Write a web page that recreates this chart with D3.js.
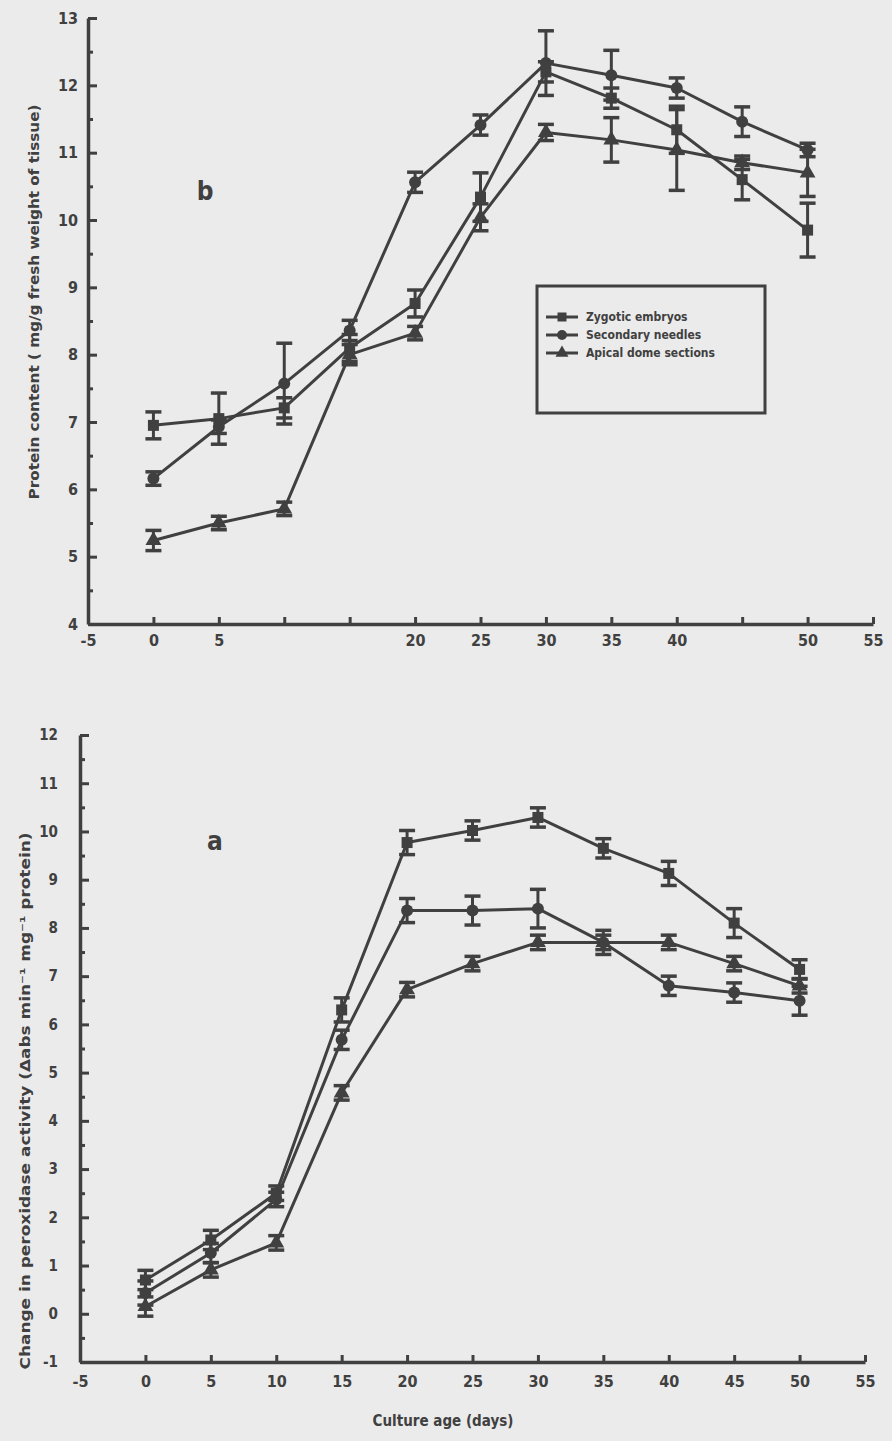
<!DOCTYPE html>
<html>
<head>
<meta charset="utf-8">
<script src="https://cdn.jsdelivr.net/npm/d3@7"></script>
<style>
  body { margin: 0; background: #ebebeb; }
  svg text { font-family: "DejaVu Sans Condensed", "DejaVu Sans", sans-serif; font-weight: bold; fill: #404040; }
</style>
</head>
<body>
<script>
const days = [0, 5, 10, 15, 20, 25, 30, 35, 40, 45, 50];
const seriesNames = ["Zygotic embryos", "Secondary needles", "Apical dome sections"];

// fig b : protein content (mg/g fresh weight)
const protZygotic    = [6.95, 7.05, 7.21, 8.1, 8.76, 10.34, 12.2, 11.81, 11.34, 10.6, 9.85];
const protZygoticErr = [0.2, 0.38, 0.15, 0.2, 0.2, 0.36, 0.15, 0.15, 0.35, 0.3, 0.4];
const protNeedles    = [6.16, 6.93, 7.57, 8.36, 10.56, 11.41, 12.33, 12.15, 11.96, 11.46, 11.04];
const protNeedlesErr = [0.1, 0.1, 0.6, 0.15, 0.15, 0.15, 0.48, 0.37, 0.15, 0.22, 0.1];
const protApical     = [5.24, 5.5, 5.71, 8.0, 8.32, 10.04, 11.3, 11.19, 11.04, 10.85, 10.7];
const protApicalErr  = [0.15, 0.1, 0.1, 0.15, 0.1, 0.2, 0.12, 0.33, 0.6, 0.1, 0.35];

// fig a : change in peroxidase activity
const perZygotic    = [0.7, 1.53, 2.5, 6.3, 9.77, 10.02, 10.29, 9.65, 9.13, 8.1, 7.14];
const perZygoticErr = [0.2, 0.2, 0.15, 0.25, 0.25, 0.2, 0.2, 0.2, 0.25, 0.3, 0.2];
const perNeedles    = [0.43, 1.26, 2.37, 5.68, 8.36, 8.36, 8.4, 7.7, 6.8, 6.66, 6.49];
const perNeedlesErr = [0.25, 0.2, 0.15, 0.2, 0.25, 0.3, 0.4, 0.25, 0.2, 0.2, 0.3];
const perApical     = [0.15, 0.91, 1.47, 4.58, 6.72, 7.26, 7.7, 7.7, 7.7, 7.26, 6.8];
const perApicalErr  = [0.2, 0.15, 0.15, 0.15, 0.15, 0.15, 0.15, 0.15, 0.15, 0.15, 0.15];

const xTicks = [-5, 0, 5, 10, 15, 20, 25, 30, 35, 40, 45, 50, 55];
const xLabelsTop    = ["-5", "0", "5", "", "", "20", "25", "30", "35", "40", "", "50", "55"];
const xLabelsBottom = ["-5", "0", "5", "10", "15", "20", "25", "30", "35", "40", "45", "50", "55"];
const protTicks = [4, 5, 6, 7, 8, 9, 10, 11, 12, 13];
const protMinor = [4.5, 5.5, 6.5, 7.5, 8.5, 9.5, 10.5, 11.5, 12.5];
const perTicks  = [-1, 0, 1, 2, 3, 4, 5, 6, 7, 8, 9, 10, 11, 12];
const perMinor  = [-0.5, 0.5, 1.5, 2.5, 3.5, 4.5, 5.5, 6.5, 7.5, 8.5, 9.5, 10.5, 11.5];

const INK = "#404040";
const W = 892, H = 1441;

const svg = d3.select("body").append("svg")
  .attr("width", W)
  .attr("height", H);

svg.append("rect").attr("width", W).attr("height", H).attr("fill", "#ebebeb");

function marker(g, shape, cx, cy, s) {
  if (shape === "square") {
    g.append("rect").attr("x", cx - s / 2).attr("y", cy - s / 2)
      .attr("width", s).attr("height", s).attr("fill", INK);
  } else if (shape === "circle") {
    g.append("circle").attr("cx", cx).attr("cy", cy).attr("r", s / 2 + 0.5).attr("fill", INK);
  } else {
    const t = d3.symbol().type(d3.symbolTriangle).size(s * s * 0.9);
    g.append("path").attr("d", t()).attr("transform", `translate(${cx},${cy})`).attr("fill", INK);
  }
}

function panel(opt) {
  const x = d3.scaleLinear().domain([-5, 55]).range(opt.xRange);
  const y = d3.scaleLinear().domain(opt.yDomain).range(opt.yRange);
  const g = svg.append("g");

  // y axis, ticks pointing inside
  const yAxis = g.append("g")
    .attr("transform", `translate(${opt.xRange[0]},0)`)
    .call(d3.axisLeft(y).tickValues(opt.yTicks).tickSizeInner(-9).tickSizeOuter(0).tickPadding(opt.yPad)
      .tickFormat(d => d));
  g.append("g")
    .attr("transform", `translate(${opt.xRange[0]},0)`)
    .call(d3.axisLeft(y).tickValues(opt.yMinor).tickSizeInner(-5).tickSizeOuter(0).tickFormat(""))
    .select(".domain").remove();

  const xAxis = g.append("g")
    .attr("transform", `translate(0,${opt.yRange[0]})`)
    .call(d3.axisBottom(x).tickValues(xTicks).tickSizeInner(-7).tickSizeOuter(0).tickPadding(opt.xPad)
      .tickFormat((d, i) => opt.xLabels[i]));

  g.selectAll(".domain").attr("stroke", INK).attr("stroke-width", 3.5);
  g.selectAll(".tick line").attr("stroke", INK).attr("stroke-width", 3);
  yAxis.selectAll("text").style("font-size", opt.yFont + "px").attr("fill", INK);
  xAxis.selectAll("text").style("font-size", "16px").attr("fill", INK);

  const shapes = ["square", "circle", "triangle"];
  const line = d3.line().x((d, i) => x(days[i])).y(d => y(d));

  opt.series.forEach((s, k) => {
    g.append("path").datum(s.values)
      .attr("d", line).attr("fill", "none")
      .attr("stroke", INK).attr("stroke-width", 3).attr("stroke-linejoin", "round");
  });
  opt.series.forEach((s, k) => {
    s.values.forEach((v, i) => {
      const cx = x(days[i]);
      const e = s.err[i];
      g.append("line").attr("x1", cx).attr("x2", cx)
        .attr("y1", y(v + e)).attr("y2", y(v - e))
        .attr("stroke", INK).attr("stroke-width", 3);
      [v + e, v - e].forEach(b => {
        g.append("line").attr("x1", cx - 8).attr("x2", cx + 8)
          .attr("y1", y(b)).attr("y2", y(b))
          .attr("stroke", INK).attr("stroke-width", 3.5);
      });
      marker(g, shapes[k], cx, y(v), 11);
    });
  });

  g.append("text")
    .attr("transform", `translate(${opt.yTitlePos[0]},${opt.yTitlePos[1]}) rotate(-90)`)
    .attr("text-anchor", "middle")
    .attr("textLength", opt.yTitleLen).attr("lengthAdjust", "spacingAndGlyphs")
    .style("font-size", "14px")
    .text(opt.yTitle);

  g.append("text")
    .attr("x", opt.letterPos[0]).attr("y", opt.letterPos[1])
    .attr("text-anchor", "middle")
    .style("font-size", "26px")
    .text(opt.letter);

  return { x, y, g };
}

// fig b
const figB = panel({
  xRange: [88, 873],
  yDomain: [4, 13],
  yRange: [624, 18],
  yTicks: protTicks,
  yMinor: protMinor,
  yPad: 10,
  yFont: 16,
  xPad: 11,
  xLabels: xLabelsTop,
  series: [
    { values: protZygotic, err: protZygoticErr },
    { values: protNeedles, err: protNeedlesErr },
    { values: protApical, err: protApicalErr }
  ],
  yTitle: "Protein content ( mg/g fresh weight of tissue)",
  yTitlePos: [39, 302],
  yTitleLen: 395,
  letter: "b",
  letterPos: [205, 200]
});

// legend of fig b
const lg = figB.g.append("g");
lg.append("rect")
  .attr("x", 537).attr("y", 286).attr("width", 228).attr("height", 127)
  .attr("fill", "none").attr("stroke", INK).attr("stroke-width", 3);
const legendShapes = ["square", "circle", "triangle"];
seriesNames.forEach((name, i) => {
  const ly = 317 + i * 18;
  lg.append("line").attr("x1", 546).attr("x2", 578).attr("y1", ly).attr("y2", ly)
    .attr("stroke", INK).attr("stroke-width", 3);
  marker(lg, legendShapes[i], 562, ly, 9);
  lg.append("text").attr("x", 586).attr("y", ly + 4)
    .style("font-size", "12px").text(name);
});

// fig a
panel({
  xRange: [80, 865],
  yDomain: [-1, 12],
  yRange: [1362, 735],
  yTicks: perTicks,
  yMinor: perMinor,
  yPad: 22,
  yFont: 15,
  xPad: 14,
  xLabels: xLabelsBottom,
  series: [
    { values: perZygotic, err: perZygoticErr },
    { values: perNeedles, err: perNeedlesErr },
    { values: perApical, err: perApicalErr }
  ],
  yTitle: "Change in peroxidase activity (\u0394abs min\u207B\u00B9 mg\u207B\u00B9 protein)",
  yTitlePos: [30, 1101],
  yTitleLen: 537,
  letter: "a",
  letterPos: [215, 850]
});

svg.append("text")
  .attr("x", 443).attr("y", 1426)
  .attr("text-anchor", "middle")
  .style("font-size", "15px")
  .text("Culture age (days)");
</script>
</body>
</html>
